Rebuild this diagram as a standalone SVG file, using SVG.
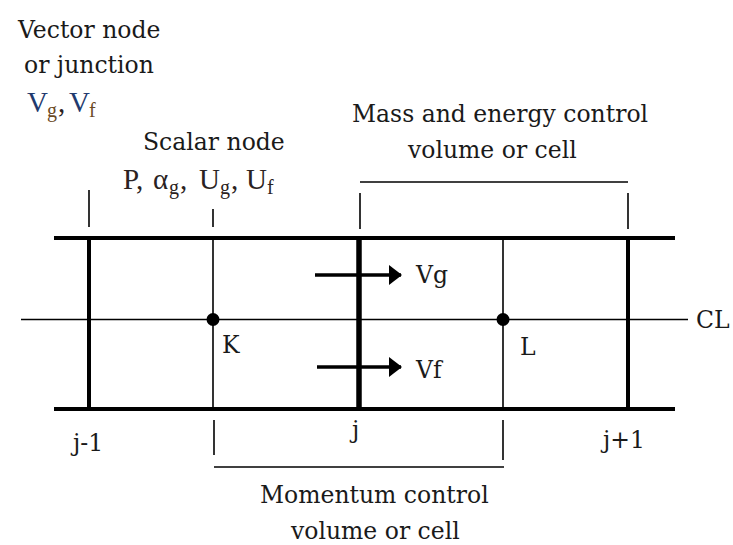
<svg xmlns="http://www.w3.org/2000/svg" width="733" height="545" viewBox="0 0 733 545">
<style>
.t{font-family:"DejaVu Serif","Liberation Serif",serif;font-size:23.5px;fill:#1a1a1a}
.m{font-family:"Liberation Serif","Times New Roman",serif;font-size:29px;fill:#2a2222}
.s{font-size:20px}
.thick{stroke:#000;stroke-width:4;fill:none}
.mid{stroke:#000;stroke-width:5.5;fill:none}
.thin{stroke:#000;stroke-width:1.6;fill:none}
.tick{stroke:#000;stroke-width:1.6;fill:none}
.arr{stroke:#000;stroke-width:3.5;fill:none}
</style>
<defs>
<marker id="ah" viewBox="0 0 13 20" refX="12" refY="10" markerWidth="13" markerHeight="20" markerUnits="userSpaceOnUse" orient="auto">
<path d="M0,0 L13,10 L0,20 Z" fill="#000"/>
</marker>
</defs>
<rect width="733" height="545" fill="#fff"/>

<g id="pipe">
<line class="thin" x1="21" y1="319.5" x2="688" y2="319.5"/>
<line class="thick" x1="54" y1="238" x2="675" y2="238"/>
<line class="thick" x1="54" y1="409" x2="675" y2="409"/>
<line class="thick" x1="89" y1="238" x2="89" y2="409"/>
<line class="mid" x1="359" y1="238" x2="359" y2="409"/>
<line class="thick" x1="628" y1="238" x2="628" y2="409"/>
<line class="thin" x1="213" y1="238" x2="213" y2="409"/>
<line class="thin" x1="503" y1="238" x2="503" y2="409"/>
<text class="t" x="696" y="328">CL</text>
</g>

<g id="node-K">
<circle cx="213" cy="319.5" r="6.5" fill="#000"/>
<text class="t" x="222" y="353">K</text>
</g>
<g id="node-L">
<circle cx="503" cy="319.5" r="6.5" fill="#000"/>
<text class="t" x="520" y="355">L</text>
</g>

<g id="junction-labels">
<text class="t" x="73" y="451">j-1</text>
<text class="t" x="352" y="438">j</text>
<text class="t" x="603" y="448">j+1</text>
</g>

<g id="vector-node-label">
<text class="t" x="18" y="38">Vector node</text>
<text class="t" x="24" y="73">or junction</text>
<text class="m" y="112"><tspan x="27" fill="#1f3a6e">V</tspan><tspan class="s" x="47" dy="5" fill="#6b4a1f">g</tspan><tspan x="58" dy="-5">,</tspan><tspan x="69" fill="#1f3a6e">V</tspan><tspan class="s" x="89" dy="5" fill="#6b4a1f">f</tspan></text>
</g>

<g id="scalar-node-label">
<text class="t" x="143" y="150">Scalar node</text>
<text class="m" y="189"><tspan x="123">P,</tspan><tspan x="153">α</tspan><tspan class="s" x="169" dy="5">g</tspan><tspan x="180" dy="-5">,</tspan><tspan x="199">U</tspan><tspan class="s" x="220" dy="5">g</tspan><tspan x="231" dy="-5">,</tspan><tspan x="246">U</tspan><tspan class="s" x="267" dy="5">f</tspan></text>
</g>

<g id="mass-energy-cv">
<text class="t" x="352" y="122">Mass and energy control</text>
<text class="t" x="408" y="158">volume or cell</text>
</g>

<g id="momentum-cv">
<text class="t" x="260" y="503">Momentum control</text>
<text class="t" x="291" y="539">volume or cell</text>
</g>

<g id="connectors">
<line class="tick" x1="89" y1="190" x2="89" y2="227"/>
<line class="tick" x1="213" y1="209" x2="213" y2="227"/>
<line class="tick" x1="360" y1="193" x2="360" y2="229"/>
<line class="tick" x1="628" y1="193" x2="628" y2="229"/>
<line class="tick" x1="360" y1="182" x2="628" y2="182"/>
<line class="tick" x1="214" y1="420" x2="214" y2="455"/>
<line class="tick" x1="503" y1="420" x2="503" y2="460"/>
<line class="tick" x1="214" y1="467" x2="504" y2="467"/>
<line class="arr" x1="315" y1="275" x2="401" y2="275" marker-end="url(#ah)"/>
<line class="arr" x1="317" y1="367" x2="401" y2="367" marker-end="url(#ah)"/>
<text class="t" x="416" y="283">Vg</text>
<text class="t" x="416" y="378">Vf</text>
</g>
</svg>
